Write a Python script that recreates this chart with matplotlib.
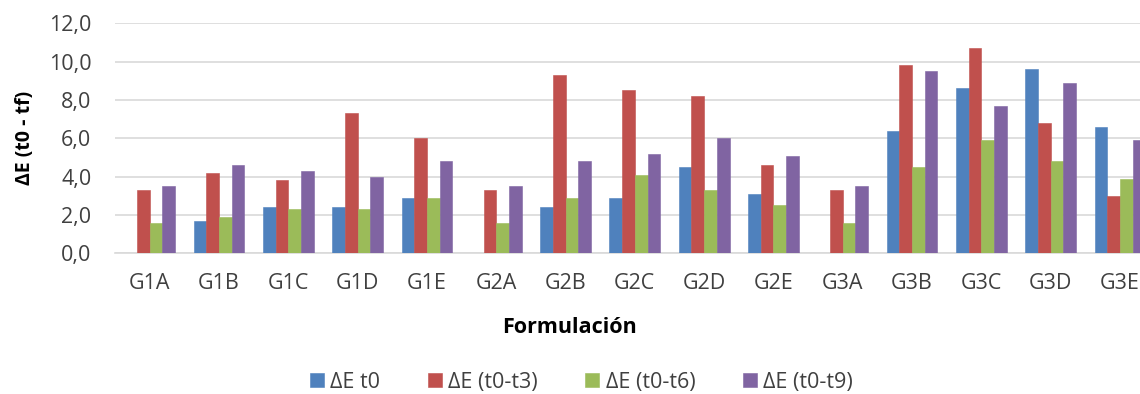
import matplotlib
matplotlib.use("Agg")
import matplotlib.pyplot as plt
import numpy as np
from matplotlib.ticker import FuncFormatter

plt.rcParams['font.family'] = ['Open Sans', 'DejaVu Sans']

categories = ["G1A", "G1B", "G1C", "G1D", "G1E", "G2A", "G2B", "G2C",
              "G2D", "G2E", "G3A", "G3B", "G3C", "G3D", "G3E"]
de_t0 = [0.0, 1.7, 2.4, 2.4, 2.9, 0.0, 2.4, 2.9, 4.5, 3.1, 0.0, 6.4, 8.6, 9.6, 6.6]
de_t3 = [3.3, 4.2, 3.8, 7.3, 6.0, 3.3, 9.3, 8.5, 8.2, 4.6, 3.3, 9.8, 10.7, 6.8, 3.0]
de_t6 = [1.6, 1.9, 2.3, 2.3, 2.9, 1.6, 2.9, 4.1, 3.3, 2.5, 1.6, 4.5, 5.9, 4.8, 3.9]
de_t9 = [3.5, 4.6, 4.3, 4.0, 4.8, 3.5, 4.8, 5.2, 6.0, 5.1, 3.5, 9.5, 7.7, 8.9, 5.9]

series = [
    ("ΔE t0", de_t0, "#4F81BD"),
    ("ΔE (t0-t3)", de_t3, "#C0504D"),
    ("ΔE (t0-t6)", de_t6, "#9BBB59"),
    ("ΔE (t0-t9)", de_t9, "#8064A2"),
]

fig = plt.figure(figsize=(11.4, 3.94), dpi=100)
ax = fig.add_axes([0.1009, 0.357, 0.912, 0.584])

x = np.arange(len(categories))
width = 0.183
for i, (name, vals, col) in enumerate(series):
    ax.bar(x + (i - 1.5) * width, vals, width, color=col, label=name,
           edgecolor=col, linewidth=0.4, zorder=3)

ax.set_xlim(-0.5, len(categories) - 0.5)
ax.set_ylim(0, 12)
ax.set_yticks(np.arange(0, 12.1, 2))
ax.yaxis.set_major_formatter(FuncFormatter(lambda v, p: f"{v:.1f}".replace(".", ",")))
ax.set_xticks(x)
ax.set_xticklabels(categories)

ax.grid(axis="y", color="#D9D9D9", linewidth=1.2, zorder=0)
for s in ["top", "right", "left"]:
    ax.spines[s].set_visible(False)
ax.spines["bottom"].set_color("#D9D9D9")
ax.spines["bottom"].set_linewidth(1.2)
ax.tick_params(axis="both", length=0, labelsize=15.5, colors="#404040")
ax.tick_params(axis="y", pad=17)
ax.tick_params(axis="x", pad=14)

ax.set_ylabel("ΔE (t0 - tf)", fontsize=14, fontweight="bold", labelpad=10)
fig.text(0.5, 0.168, "Formulación", ha="center", va="center",
         fontsize=15.5, fontweight="bold")

handles, labels = ax.get_legend_handles_labels()
fig.legend(handles, labels, loc="center", bbox_to_anchor=(0.51, 0.03),
           ncol=4, frameon=False, fontsize=15.5, handlelength=0.65,
           handleheight=0.65, handletextpad=0.3, columnspacing=2.2,
           labelcolor="#404040")

fig.savefig("out.png", dpi=100)
